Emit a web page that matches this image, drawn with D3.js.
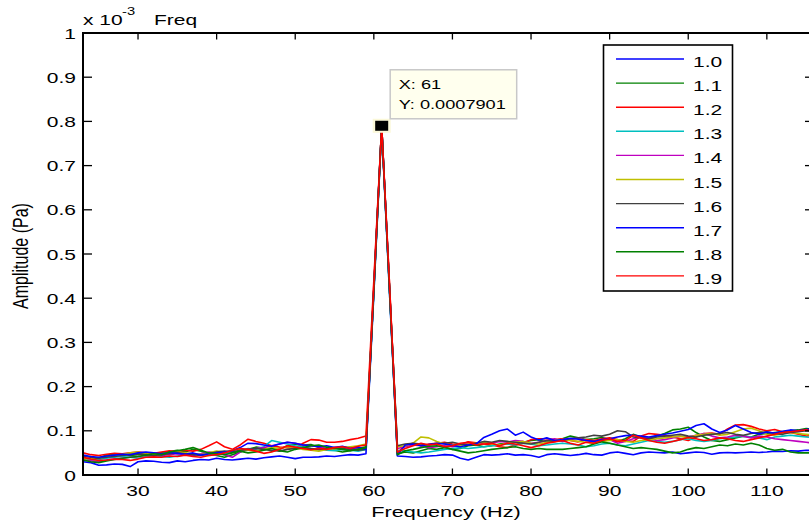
<!DOCTYPE html>
<html><head><meta charset="utf-8">
<script src="https://cdn.jsdelivr.net/npm/d3@7"></script>
<style>html,body{margin:0;padding:0;background:#fff;}svg{display:block;font-family:"Liberation Sans",Arial,sans-serif;}</style>
</head><body>
<script>
// ---- data (amplitude in units of 1e-3 Pa) ----
const freqs = d3.range(23, 117);
const seriesNames = ["1.0","1.1","1.2","1.3","1.4","1.5","1.6","1.7","1.8","1.9"];
const seriesColors = ["#0000ff","#008000","#ff0000","#00bfbf","#bf00bf","#bfbf00","#404040","#0000ff","#008000","#ff0000"];
const s10 = [0.030,0.028,0.022,0.023,0.025,0.024,0.019,0.030,0.032,0.031,
 0.029,0.028,0.032,0.030,0.033,0.035,0.034,0.038,0.035,0.034,
 0.036,0.038,0.036,0.039,0.041,0.043,0.040,0.037,0.040,0.040,
 0.041,0.043,0.042,0.044,0.046,0.045,0.048,0.410,0.785,0.410,
 0.043,0.042,0.040,0.041,0.043,0.044,0.046,0.045,0.038,0.034,
 0.040,0.046,0.045,0.046,0.048,0.045,0.046,0.044,0.040,0.046,
 0.048,0.046,0.044,0.046,0.049,0.046,0.045,0.050,0.052,0.049,
 0.046,0.050,0.052,0.051,0.050,0.052,0.048,0.050,0.052,0.051,
 0.047,0.050,0.051,0.050,0.051,0.052,0.051,0.052,0.054,0.053,
 0.055,0.054,0.056,0.055];
const s11 = [0.038,0.035,0.038,0.045,0.047,0.048,0.044,0.046,0.049,0.047,
 0.050,0.053,0.056,0.052,0.058,0.054,0.048,0.044,0.040,0.046,
 0.052,0.058,0.063,0.061,0.054,0.058,0.066,0.070,0.068,0.069,
 0.062,0.058,0.056,0.052,0.055,0.060,0.064,0.420,0.785,0.420,
 0.048,0.052,0.050,0.055,0.060,0.058,0.062,0.058,0.060,0.066,
 0.068,0.064,0.066,0.070,0.072,0.068,0.074,0.078,0.080,0.074,
 0.078,0.082,0.088,0.084,0.080,0.082,0.085,0.080,0.076,0.082,
 0.092,0.086,0.084,0.088,0.094,0.102,0.104,0.108,0.096,0.086,
 0.078,0.076,0.080,0.084,0.088,0.086,0.092,0.094,0.096,0.098,
 0.100,0.102,0.105,0.103];
const s12 = [0.050,0.046,0.044,0.047,0.049,0.048,0.050,0.052,0.050,0.049,
 0.052,0.055,0.053,0.056,0.054,0.058,0.066,0.075,0.064,0.058,
 0.068,0.081,0.076,0.072,0.066,0.063,0.062,0.060,0.072,0.080,
 0.079,0.074,0.074,0.076,0.080,0.083,0.088,0.440,0.790,0.430,
 0.050,0.068,0.072,0.066,0.070,0.072,0.074,0.070,0.068,0.075,
 0.073,0.070,0.068,0.064,0.062,0.068,0.072,0.080,0.082,0.082,
 0.080,0.082,0.078,0.075,0.080,0.078,0.082,0.084,0.080,0.077,
 0.076,0.088,0.094,0.092,0.090,0.086,0.082,0.078,0.086,0.094,
 0.095,0.092,0.104,0.113,0.114,0.110,0.104,0.100,0.103,0.098,
 0.096,0.092,0.088,0.090];
const s13 = [0.036,0.034,0.035,0.038,0.040,0.042,0.040,0.038,0.041,0.044,
 0.042,0.040,0.043,0.046,0.048,0.046,0.044,0.046,0.048,0.052,
 0.056,0.060,0.058,0.064,0.078,0.074,0.070,0.066,0.064,0.060,
 0.058,0.056,0.055,0.058,0.056,0.054,0.058,0.410,0.785,0.410,
 0.056,0.054,0.052,0.050,0.052,0.055,0.058,0.060,0.062,0.060,
 0.062,0.064,0.066,0.068,0.070,0.068,0.072,0.070,0.066,0.068,
 0.070,0.072,0.070,0.068,0.064,0.066,0.070,0.072,0.068,0.066,
 0.070,0.074,0.078,0.076,0.074,0.076,0.080,0.082,0.078,0.076,
 0.078,0.082,0.084,0.086,0.088,0.086,0.084,0.080,0.086,0.088,
 0.090,0.088,0.086,0.084];
const s14 = [0.034,0.032,0.030,0.034,0.036,0.038,0.040,0.042,0.044,0.046,
 0.044,0.046,0.048,0.046,0.044,0.048,0.052,0.050,0.046,0.040,
 0.052,0.058,0.060,0.062,0.066,0.070,0.074,0.072,0.068,0.066,
 0.064,0.060,0.062,0.064,0.062,0.058,0.060,0.420,0.790,0.420,
 0.060,0.064,0.068,0.066,0.062,0.064,0.066,0.064,0.068,0.072,
 0.070,0.074,0.072,0.076,0.074,0.078,0.076,0.072,0.074,0.078,
 0.082,0.076,0.080,0.084,0.078,0.074,0.078,0.080,0.072,0.076,
 0.082,0.086,0.084,0.078,0.080,0.084,0.088,0.086,0.090,0.094,
 0.088,0.084,0.086,0.090,0.088,0.084,0.088,0.086,0.082,0.080,
 0.078,0.076,0.074,0.072];
const s15 = [0.036,0.038,0.040,0.042,0.044,0.046,0.050,0.052,0.048,0.046,
 0.048,0.050,0.052,0.050,0.048,0.046,0.050,0.054,0.052,0.056,
 0.058,0.056,0.054,0.058,0.062,0.060,0.064,0.062,0.058,0.056,
 0.054,0.058,0.060,0.062,0.064,0.066,0.070,0.420,0.790,0.420,
 0.064,0.066,0.072,0.086,0.084,0.076,0.070,0.068,0.066,0.070,
 0.072,0.074,0.070,0.068,0.072,0.074,0.076,0.072,0.070,0.074,
 0.078,0.080,0.078,0.076,0.074,0.072,0.076,0.078,0.080,0.076,
 0.074,0.078,0.080,0.082,0.084,0.086,0.088,0.084,0.090,0.092,
 0.094,0.090,0.092,0.098,0.104,0.106,0.100,0.092,0.090,0.094,
 0.096,0.094,0.092,0.090];
const s16 = [0.042,0.040,0.038,0.040,0.042,0.044,0.046,0.048,0.046,0.044,
 0.046,0.048,0.050,0.048,0.046,0.044,0.048,0.052,0.054,0.052,
 0.056,0.058,0.060,0.058,0.056,0.054,0.058,0.060,0.062,0.060,
 0.058,0.060,0.062,0.060,0.058,0.056,0.058,0.420,0.790,0.420,
 0.066,0.070,0.072,0.070,0.068,0.070,0.072,0.074,0.070,0.068,
 0.072,0.076,0.074,0.078,0.076,0.074,0.072,0.070,0.074,0.078,
 0.076,0.078,0.082,0.084,0.086,0.090,0.088,0.092,0.100,0.098,
 0.086,0.084,0.082,0.086,0.088,0.090,0.092,0.088,0.086,0.090,
 0.092,0.094,0.096,0.092,0.090,0.094,0.096,0.098,0.094,0.092,
 0.096,0.098,0.100,0.098];
const s17 = [0.045,0.042,0.040,0.043,0.045,0.047,0.046,0.050,0.052,0.050,
 0.048,0.051,0.049,0.047,0.050,0.045,0.048,0.050,0.052,0.055,
 0.062,0.072,0.071,0.068,0.065,0.070,0.074,0.072,0.068,0.066,
 0.064,0.066,0.062,0.065,0.060,0.063,0.058,0.420,0.790,0.420,
 0.045,0.068,0.070,0.066,0.069,0.072,0.070,0.067,0.064,0.068,
 0.070,0.085,0.092,0.100,0.104,0.090,0.097,0.086,0.079,0.084,
 0.078,0.080,0.083,0.081,0.078,0.076,0.080,0.082,0.086,0.089,
 0.090,0.088,0.086,0.089,0.092,0.095,0.099,0.103,0.112,0.116,
 0.104,0.096,0.102,0.112,0.104,0.096,0.093,0.097,0.095,0.099,
 0.102,0.100,0.103,0.105];
const s18 = [0.034,0.030,0.028,0.032,0.035,0.038,0.040,0.042,0.045,0.048,
 0.046,0.052,0.055,0.058,0.062,0.056,0.050,0.048,0.046,0.050,
 0.054,0.050,0.052,0.056,0.060,0.055,0.052,0.058,0.062,0.066,
 0.068,0.063,0.060,0.058,0.055,0.058,0.062,0.420,0.790,0.420,
 0.046,0.055,0.058,0.062,0.065,0.066,0.063,0.058,0.054,0.050,
 0.052,0.055,0.058,0.060,0.062,0.064,0.060,0.058,0.060,0.058,
 0.058,0.058,0.060,0.062,0.064,0.070,0.075,0.072,0.068,0.064,
 0.060,0.062,0.060,0.058,0.054,0.050,0.052,0.058,0.062,0.060,
 0.064,0.068,0.066,0.070,0.068,0.072,0.068,0.060,0.056,0.058,
 0.052,0.050,0.050,0.050];
const s19 = [0.040,0.036,0.033,0.034,0.036,0.035,0.033,0.036,0.040,0.041,
 0.040,0.043,0.042,0.045,0.042,0.040,0.044,0.046,0.050,0.056,
 0.060,0.058,0.054,0.049,0.052,0.058,0.066,0.063,0.060,0.057,
 0.060,0.058,0.062,0.064,0.060,0.065,0.068,0.430,0.7901,0.430,
 0.052,0.060,0.066,0.072,0.068,0.070,0.064,0.066,0.072,0.074,
 0.068,0.070,0.072,0.066,0.072,0.070,0.066,0.062,0.066,0.072,
 0.075,0.078,0.072,0.068,0.074,0.072,0.078,0.082,0.076,0.078,
 0.090,0.084,0.078,0.074,0.072,0.076,0.080,0.085,0.082,0.078,
 0.080,0.084,0.082,0.078,0.076,0.080,0.084,0.088,0.092,0.096,
 0.098,0.100,0.102,0.100];
const allSeries = [s10,s11,s12,s13,s14,s15,s16,s17,s18,s19];
const xTicks = [30,40,50,60,70,80,90,100,110];
const yTicks = [0,0.1,0.2,0.3,0.4,0.5,0.6,0.7,0.8,0.9,1];
const yTickLabels = ["0","0.1","0.2","0.3","0.4","0.5","0.6","0.7","0.8","0.9","1"];
const tipX = 61, tipY = 0.7901;
const tipLines = ["X: 61", "Y: 0.0007901"];

// ---- layout ----
const W = 809, H = 525;
const L = 83, R = 814, T = 33, B = 475;
const SX = 1.4; // horizontal text stretch

const svg = d3.select("body").append("svg").attr("width", W).attr("height", H);
const x = d3.scaleLinear().domain([23, 116]).range([L, R]);
const y = d3.scaleLinear().domain([0, 1]).range([B, T]);

function stext(px, py, str, size, anchor, rot) {
  const g = svg.append("g").attr("transform", `translate(${px},${py}) scale(${SX},1)` + (rot ? ` rotate(${rot})` : ""));
  return g.append("text").attr("text-anchor", anchor || "start").attr("font-size", size).attr("fill", "#000").text(str);
}

svg.append("defs").append("clipPath").attr("id", "clip")
  .append("rect").attr("x", L).attr("y", T).attr("width", R - L).attr("height", B - T);

// data lines
const line = d3.line().x((d, i) => x(freqs[i])).y(d => y(d));
const plot = svg.append("g").attr("clip-path", "url(#clip)");
allSeries.forEach((s, k) => {
  plot.append("path").attr("d", line(s)).attr("fill", "none")
    .attr("stroke", seriesColors[k]).attr("stroke-width", 1.6).attr("stroke-linejoin", "round");
});

// axes
const ax = svg.append("g").attr("stroke", "#000").attr("stroke-width", 2).attr("fill", "none");
ax.append("path").attr("d", `M${L},${T}H${R}V${B}H${L}Z`);
xTicks.forEach(t => {
  ax.append("line").attr("x1", x(t)).attr("x2", x(t)).attr("y1", B).attr("y2", B - 6.5).attr("stroke-width", 1.3);
  ax.append("line").attr("x1", x(t)).attr("x2", x(t)).attr("y1", T).attr("y2", T + 6.5).attr("stroke-width", 1.3);
  stext(x(t), 496, String(t), 15, "middle");
});
yTicks.forEach((t, i) => {
  ax.append("line").attr("x1", L).attr("x2", L + 9).attr("y1", y(t)).attr("y2", y(t)).attr("stroke-width", 1.3);
  ax.append("line").attr("x1", R).attr("x2", R - 9).attr("y1", y(t)).attr("y2", y(t)).attr("stroke-width", 1.3);
  stext(76, y(t) + 5.5, yTickLabels[i], 15, "end");
});

// exponent + title
stext(83, 25, "x 10", 15, "start");
stext(122, 15, "-3", 10.5, "start");
stext(154, 25, "Freq", 15, "start");

// axis labels
stext(446, 517, "Frequency (Hz)", 15.5, "middle");
stext(28, 256, "Amplitude (Pa)", 16, "middle", -90);

// legend
const lg = { x: 603.5, y: 45, w: 129, h: 246, row: 24.1, first: 59 };
svg.append("rect").attr("x", lg.x).attr("y", lg.y).attr("width", lg.w).attr("height", lg.h)
  .attr("fill", "#fff").attr("stroke", "#000").attr("stroke-width", 1.6);
seriesNames.forEach((n, k) => {
  const yy = lg.first + k * lg.row;
  svg.append("line").attr("x1", 616).attr("x2", 684).attr("y1", yy).attr("y2", yy)
    .attr("stroke", seriesColors[k]).attr("stroke-width", 1.4);
  stext(693, yy + 8, n, 15, "start");
});

// data tip
const mx = x(tipX), my = y(tipY);
svg.append("rect").attr("x", mx - 9).attr("y", my - 7).attr("width", 18).attr("height", 14).attr("fill", "#fbf8d8");
svg.append("rect").attr("x", mx - 6.5).attr("y", my - 5).attr("width", 13).attr("height", 10).attr("fill", "#000");
svg.append("rect").attr("x", mx + 8.5).attr("y", my - 56).attr("width", 126.5).attr("height", 49)
  .attr("fill", "#ffffee").attr("stroke", "#c8c8c8").attr("stroke-width", 1.5);
stext(mx + 17, my - 36.5, tipLines[0], 13, "start");
stext(mx + 17, my - 17, tipLines[1], 13, "start");
</script>
</body></html>
